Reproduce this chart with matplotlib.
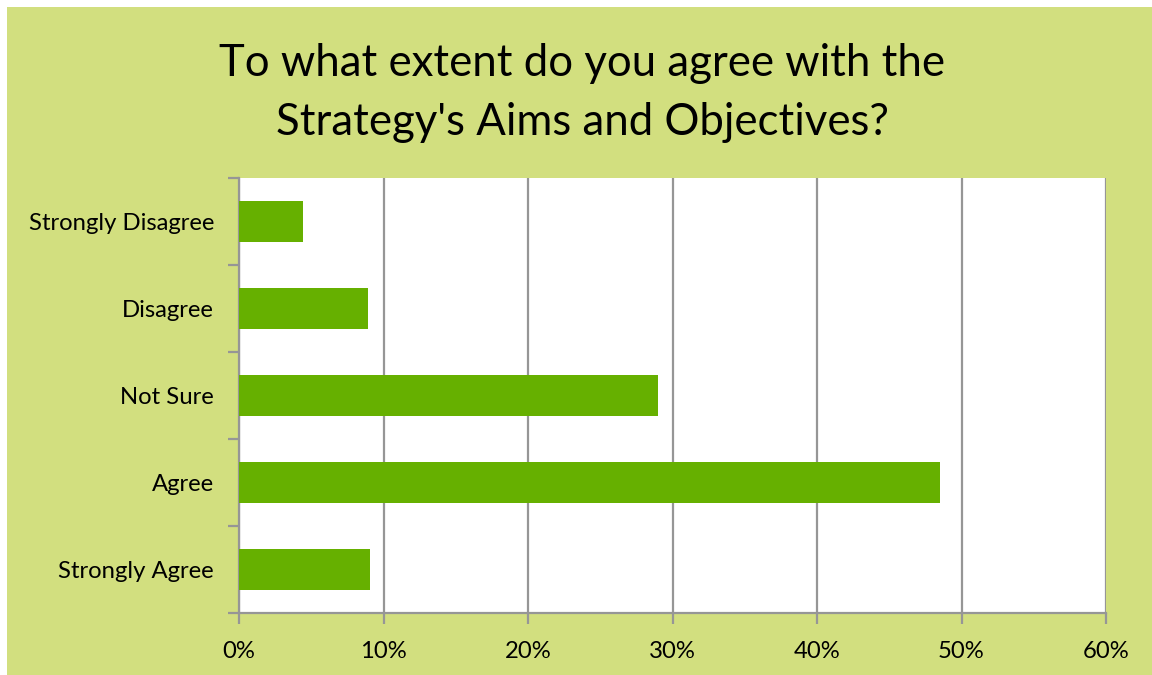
import numpy as np
import matplotlib.pyplot as plt
from matplotlib.patches import Rectangle
from matplotlib.ticker import FuncFormatter, FixedLocator

plt.rcParams['font.family'] = ['Lato', 'DejaVu Sans']

categories = ["Strongly Agree", "Agree", "Not Sure", "Disagree", "Strongly Disagree"]
values = [9.1, 48.5, 29.0, 8.9, 4.4]
xticks = [0, 10, 20, 30, 40, 50, 60]
title = "To what extent do you agree with the\nStrategy's Aims and Objectives?"

bg = "#d2df7f"
bar_color = "#66b000"
grid_color = "#969696"

W, H = 1152, 675
fig = plt.figure(figsize=(W / 100, H / 100), dpi=100)
fig.patch.set_facecolor("white")
fig.add_artist(Rectangle((7 / W, 0), 1 - 7 / W, 1 - 7 / H, transform=fig.transFigure,
                         facecolor=bg, edgecolor="none", zorder=-10))

ax = fig.add_axes([239 / W, 1 - 613 / H, (1106 - 239) / W, (613 - 178) / H])
ax.set_facecolor("white")

y = np.arange(len(categories))
ax.barh(y, values, height=0.47, color=bar_color, zorder=3)

ax.set_xlim(0, 60)
ax.set_ylim(-0.5, len(categories) - 0.5)
ax.xaxis.set_major_locator(FixedLocator(xticks))
ax.xaxis.set_major_formatter(FuncFormatter(lambda v, p: f"{v:.0f}%"))
ax.grid(axis="x", color=grid_color, linewidth=1.6, zorder=1)

ax.set_yticks(y)
ax.set_yticklabels(categories)
ax.yaxis.set_minor_locator(FixedLocator(np.arange(-0.5, len(categories), 1.0)))
ax.tick_params(axis="y", which="major", length=0, pad=18, labelsize=17.2)
ax.tick_params(axis="y", which="minor", length=8, width=1.6, color=grid_color)
ax.tick_params(axis="x", length=8, width=1.6, color=grid_color, pad=12, labelsize=17.2)

for s in ["top", "right"]:
    ax.spines[s].set_visible(False)
for s in ["left", "bottom"]:
    ax.spines[s].set_color(grid_color)
    ax.spines[s].set_linewidth(1.6)

fig.text(582 / W, 1 - 93 / H, title, ha="center", va="center", fontsize=31.5,
         linespacing=1.55)

plt.savefig("out.png", dpi=100)
